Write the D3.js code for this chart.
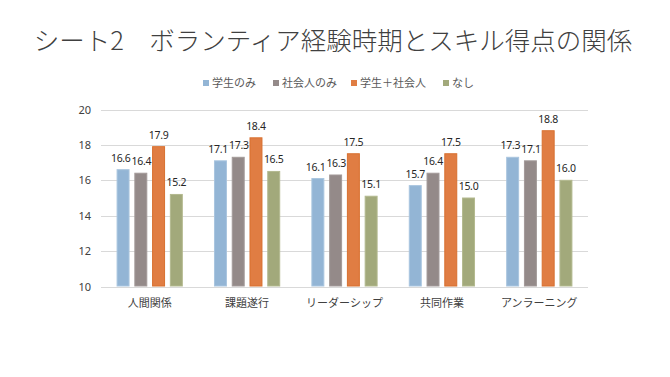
<!DOCTYPE html>
<html>
<head>
<meta charset="utf-8">
<script src="https://cdn.jsdelivr.net/npm/d3@7"></script>
<style>
  body { margin: 0; background: #fff; }
  text { font-family: "Noto Sans CJK JP", "Noto Sans", sans-serif; }
</style>
</head>
<body>
<svg id="chart"></svg>
<script>
// data
const categories = ['人間関係', '課題遂行', 'リーダーシップ', '共同作業', 'アンラーニング'];
const seriesNames = ['学生のみ', '社会人のみ', '学生＋社会人', 'なし'];
const studentOnly = [16.6, 17.1, 16.1, 15.7, 17.3];
const workerOnly = [16.4, 17.3, 16.3, 16.4, 17.1];
const both = [17.9, 18.4, 17.5, 17.5, 18.8];
const none = [15.2, 16.5, 15.1, 15.0, 16.0];
const yTicks = [10, 12, 14, 16, 18, 20];

const seriesValues = [studentOnly, workerOnly, both, none];
const fills = ['#93b5d5', '#948a89', '#e07d43', '#a2a97b'];
const strokes = ['#a9c5df', '#a39a99', '#d8702f', '#b3b98f'];

const W = 670, H = 377;
const plot = { left: 101, right: 588, top: 109.5, bottom: 286.5 };

const svg = d3.select('#chart')
    .attr('width', W)
    .attr('height', H);

// title
svg.append('text')
    .attr('x', 333)
    .attr('y', 50)
    .attr('text-anchor', 'middle')
    .style('font-size', '25.5px')
    .style('font-weight', 300)
    .style('fill', '#404040')
    .text('シート2　ボランティア経験時期とスキル得点の関係');

// scales
const x0 = d3.scaleBand().domain(categories).range([plot.left, plot.right]);
const x1 = d3.scaleBand().domain(seriesNames)
    .range([x0.bandwidth() * 0.16, x0.bandwidth() * 0.84])
    .paddingInner(0.27);
const y = d3.scaleLinear().domain([10, 20]).range([plot.bottom, plot.top]);

// gridlines
svg.append('g')
    .selectAll('line')
    .data(yTicks)
    .enter()
    .append('line')
    .attr('x1', plot.left)
    .attr('x2', plot.right)
    .attr('y1', d => Math.round(y(d)) + 0.5)
    .attr('y2', d => Math.round(y(d)) + 0.5)
    .attr('stroke', '#d9d9d9')
    .attr('stroke-width', 1);

// y axis labels
const yAxis = svg.append('g')
    .attr('transform', `translate(${plot.left - 10},0)`)
    .call(d3.axisLeft(y).tickValues(yTicks).tickSize(0).tickPadding(0));
yAxis.select('.domain').remove();
yAxis.selectAll('text')
    .style('font-size', '11px')
    .style('fill', '#404040')
    .style('font-family', '"Noto Sans", sans-serif');

// x axis labels
const xAxis = svg.append('g')
    .attr('transform', `translate(0,${plot.bottom})`)
    .call(d3.axisBottom(x0).tickSize(0).tickPadding(13));
xAxis.select('.domain').remove();
xAxis.selectAll('text')
    .style('font-size', '11px')
    .style('fill', '#404040');

// bars
const groups = svg.append('g')
    .selectAll('g')
    .data(categories)
    .enter()
    .append('g')
    .attr('transform', d => `translate(${x0(d)},0)`);

const cells = groups.selectAll('g')
    .data((c, i) => seriesNames.map((s, j) => ({ series: s, idx: j, value: seriesValues[j][i] })))
    .enter()
    .append('g');

cells.append('rect')
    .attr('x', d => x1(d.series) + 0.5)
    .attr('y', d => y(d.value))
    .attr('width', x1.bandwidth() - 1)
    .attr('height', d => y(10) - y(d.value) - 0.5)
    .attr('fill', d => fills[d.idx])
    .attr('stroke', d => strokes[d.idx])
    .attr('stroke-width', 1);

cells.append('text')
    .attr('class', 'val')
    .attr('x', d => x1(d.series) + x1.bandwidth() / 2)
    .attr('y', d => y(d.value) - 8)
    .attr('text-anchor', 'middle')
    .style('font-size', '10.5px')
    .style('letter-spacing', '-0.3px')
    .style('fill', '#262626')
    .style('font-family', '"Noto Sans", sans-serif')
    .text(d => d.value.toFixed(1));

// nudge value labels apart when neighbours collide (like Excel does)
groups.each(function() {
    const labels = d3.select(this).selectAll('text.val').nodes();
    for (let k = 0; k < labels.length - 1; k++) {
        const a = labels[k], b = labels[k + 1];
        const ya = +a.getAttribute('y'), yb = +b.getAttribute('y');
        if (Math.abs(ya - yb) > 11) continue;
        const xa = +a.getAttribute('x'), xb = +b.getAttribute('x');
        const need = a.getComputedTextLength() / 2 + b.getComputedTextLength() / 2 + 1;
        const over = need - (xb - xa);
        if (over > 0) {
            a.setAttribute('x', xa - over * 0.8);
            b.setAttribute('x', xb + over * 0.2);
        }
    }
});

// legend
const legendItems = [
    { x: 203, name: seriesNames[0] },
    { x: 273, name: seriesNames[1] },
    { x: 351, name: seriesNames[2] },
    { x: 443, name: seriesNames[3] }
];
const legend = svg.append('g')
    .selectAll('g')
    .data(legendItems)
    .enter()
    .append('g')
    .attr('transform', d => `translate(${d.x},83)`);

legend.append('rect')
    .attr('x', 0)
    .attr('y', -3)
    .attr('width', 6)
    .attr('height', 6)
    .attr('fill', (d, i) => fills[i]);

legend.append('text')
    .attr('x', 9)
    .attr('y', 4)
    .style('font-size', '11px')
    .style('fill', '#595959')
    .text(d => d.name);
</script>
</body>
</html>
